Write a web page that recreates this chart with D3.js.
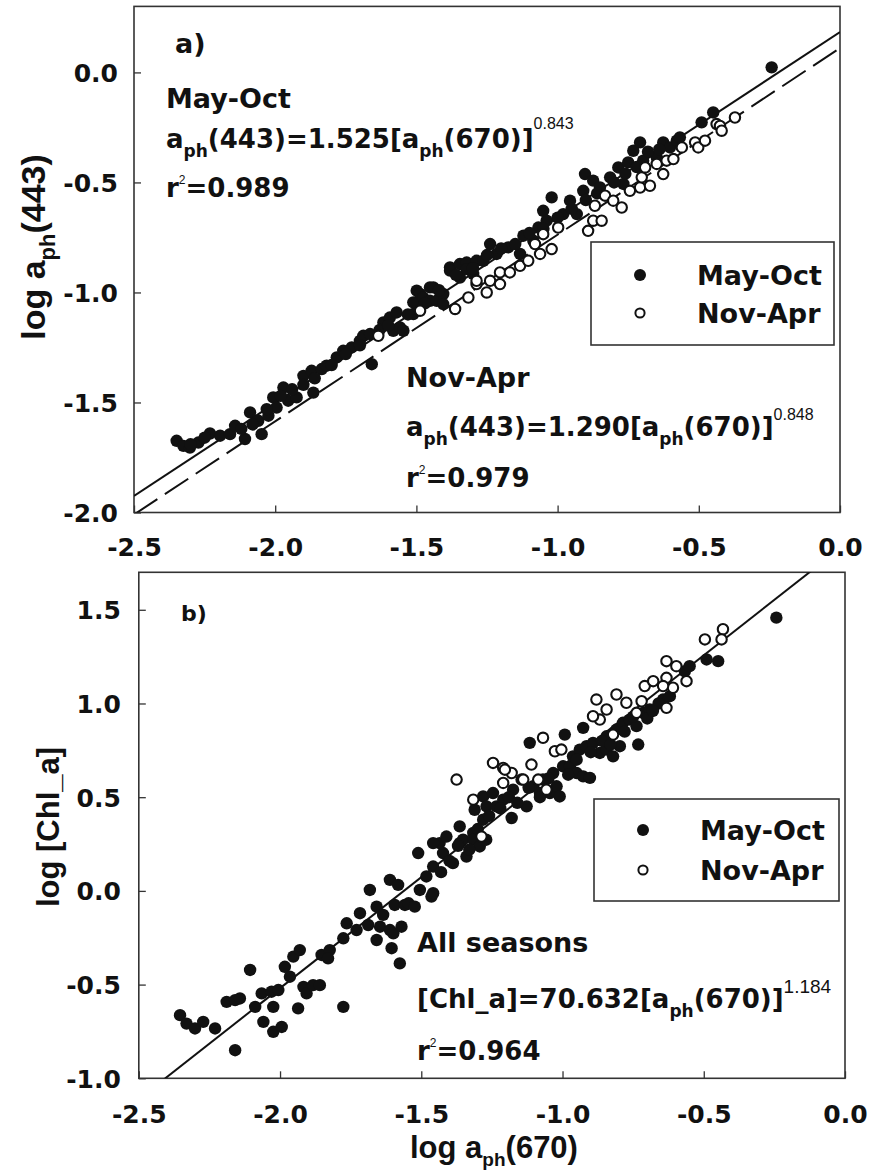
<!DOCTYPE html>
<html><head><meta charset="utf-8">
<script src="https://cdn.jsdelivr.net/npm/d3@7/dist/d3.min.js"></script>
<style>body{margin:0;background:#fff}</style>
</head><body>
<svg id="c" width="870" height="1174"></svg>
<script>
// ---------- data ----------
const xTicks = [-2.5, -2.0, -1.5, -1.0, -0.5, 0.0];
const yTicksA = [-2.0, -1.5, -1.0, -0.5, 0.0];
const yTicksB = [-1.0, -0.5, 0.0, 0.5, 1.0, 1.5];
const seriesNames = ["May-Oct", "Nov-Apr"];
const fitLabels = ["May-Oct", "Nov-Apr", "All seasons"];
const fitCoefs = [1.525, 1.290, 70.632];
const fitExps = [0.843, 0.848, 1.184];
const fitR2 = [0.989, 0.979, 0.964];

// panel a: log aph(670) vs log aph(443)
const mayOctA = [
[-2.349,-1.674],[-2.325,-1.697],[-2.302,-1.705],[-2.272,-1.682],[-2.231,-1.641],[-2.195,-1.651],[-2.160,-1.644],[-2.142,-1.606],[-2.107,-1.666],[-2.089,-1.545],[-2.060,-1.583],[-2.048,-1.644],[-2.024,-1.560],[-2.007,-1.477],[-1.995,-1.523],[-1.971,-1.432],[-1.954,-1.492],[-1.924,-1.477],[-1.900,-1.379],[-1.871,-1.356],[-1.865,-1.455],[-1.835,-1.348],[-1.818,-1.333],[-1.782,-1.295],[-1.759,-1.265],[-1.729,-1.250],[-1.700,-1.220],[-1.688,-1.197],[-1.664,-1.189],[-1.658,-1.326],[-1.617,-1.136],[-1.594,-1.114],[-1.570,-1.091],[-1.582,-1.174],[-1.558,-1.159],[-1.546,-1.174],[-1.511,-1.098],[-1.511,-1.045],[-1.499,-0.992],[-1.487,-1.007],[-1.476,-1.023],[-1.452,-1.038],[-1.452,-0.977],[-1.440,-0.977],[-1.428,-1.038],[-1.405,-1.007],[-1.405,-1.053],[-1.381,-0.886],[-1.381,-0.901],[-1.346,-0.932],[-1.346,-0.871],[-1.322,-0.864],[-1.322,-0.894],[-1.299,-0.916],[-1.287,-0.856],[-1.263,-0.856],[-1.239,-0.780],[-1.216,-0.825],[-1.175,-0.795],[-1.133,-0.825],[-1.121,-0.742],[-1.086,-0.765],[-1.068,-0.705],[-1.051,-0.629],[-1.021,-0.568],[-1.039,-0.674],[-0.980,-0.644],[-0.956,-0.583],[-0.932,-0.644],[-0.909,-0.538],[-0.903,-0.462],[-0.874,-0.492],[-0.850,-0.523],[-0.814,-0.477],[-0.785,-0.432],[-0.767,-0.507],[-0.750,-0.409],[-0.732,-0.356],[-0.708,-0.318],[-0.697,-0.401],[-0.649,-0.386],[-0.626,-0.318],[-0.602,-0.341],[-0.578,-0.310],[-0.567,-0.295],[-0.490,-0.227],[-0.449,-0.182],[-0.242,0.023],
[-2.300,-1.690],[-2.250,-1.660],[-2.120,-1.620],[-2.080,-1.600],[-2.030,-1.530],[-1.980,-1.470],[-1.940,-1.440],[-1.900,-1.420],[-1.860,-1.390],[-1.800,-1.330],[-1.750,-1.280],[-1.700,-1.240],
[-1.630,-1.170],[-1.600,-1.150],[-1.530,-1.100],[-1.470,-1.050],[-1.420,-0.990],[-1.360,-0.920],[-1.300,-0.890],[-1.250,-0.830],[-1.200,-0.800],[-1.150,-0.780],[-1.100,-0.730],[-1.050,-0.710],[-1.000,-0.660],[-0.950,-0.620],[-0.900,-0.580],[-0.860,-0.550],[-0.800,-0.500],[-0.760,-0.460],[-0.720,-0.430],[-0.680,-0.360],[-0.640,-0.350]
];
const novAprA = [
[-1.635,-1.197],[-1.487,-1.083],[-1.363,-1.075],[-1.316,-1.023],[-1.287,-0.962],[-1.287,-0.947],[-1.251,-1.000],[-1.239,-0.947],[-1.204,-0.962],[-1.204,-0.909],[-1.169,-0.909],[-1.133,-0.879],[-1.104,-0.856],[-1.080,-0.780],[-1.062,-0.825],[-1.051,-0.735],[-1.021,-0.803],[-0.998,-0.705],[-0.892,-0.720],[-0.874,-0.674],[-0.844,-0.674],[-0.868,-0.606],[-0.832,-0.560],[-0.803,-0.583],[-0.773,-0.614],[-0.744,-0.538],[-0.708,-0.523],[-0.673,-0.515],[-0.702,-0.477],[-0.690,-0.432],[-0.649,-0.416],[-0.626,-0.462],[-0.614,-0.401],[-0.590,-0.394],[-0.560,-0.341],[-0.513,-0.318],[-0.502,-0.341],[-0.478,-0.310],[-0.437,-0.235],[-0.425,-0.243],[-0.419,-0.265],[-0.372,-0.205]
];

// panel b: log aph(670) vs log [Chl_a]
const mayOctB = [
[-2.354,-0.663],[-2.331,-0.708],[-2.301,-0.734],[-2.272,-0.699],[-2.230,-0.734],[-2.189,-0.592],[-2.159,-0.583],[-2.142,-0.574],[-2.159,-0.850],[-2.106,-0.422],[-2.088,-0.619],[-2.065,-0.547],[-2.059,-0.699],[-2.030,-0.538],[-2.024,-0.619],[-2.024,-0.752],[-2.006,-0.529],[-1.994,-0.726],[-1.983,-0.405],[-1.965,-0.458],[-1.953,-0.351],[-1.930,-0.316],[-1.936,-0.627],[-1.917,-0.512],[-1.906,-0.547],[-1.883,-0.503],[-1.859,-0.503],[-1.853,-0.342],[-1.824,-0.316],[-1.830,-0.360],[-1.776,-0.619],[-1.776,-0.253],[-1.764,-0.173],[-1.729,-0.209],[-1.717,-0.119],[-1.688,-0.182],[-1.682,0.005],[-1.658,-0.262],[-1.646,-0.191],[-1.658,-0.084],[-1.635,-0.128],[-1.611,0.059],[-1.611,-0.209],[-1.599,-0.226],[-1.605,-0.306],[-1.582,0.032],[-1.576,-0.387],[-1.570,-0.191],[-1.594,-0.075],[-1.558,-0.075],[-1.545,-0.066],[-1.523,-0.084],[-1.505,0.005],[-1.511,0.202],[-1.482,0.077],[-1.458,0.130],[-1.464,-0.030],[-1.458,-0.012],[-1.435,0.255],[-1.458,0.255],[-1.423,0.202],[-1.411,0.290],[-1.388,0.148],[-1.364,0.255],[-1.364,0.344],[-1.352,0.273],[-1.340,0.183],[-1.316,0.309],[-1.316,0.273],[-1.293,0.237],[-1.270,0.273],[-1.281,0.380],[-1.311,0.433],[-1.281,0.504],[-1.246,0.522],[-1.269,0.451],[-1.234,0.451],[-1.210,0.487],[-1.180,0.389],[-1.175,0.540],[-1.127,0.451],[-1.145,0.594],[-1.104,0.558],[-1.080,0.522],[-1.069,0.594],[-1.045,0.522],[-1.021,0.558],[-1.010,0.504],[-1.033,0.629],[-0.998,0.665],[-0.974,0.665],[-0.950,0.629],[-0.927,0.611],[-0.903,0.603],[-0.963,0.718],[-0.939,0.754],[-0.915,0.772],[-0.892,0.790],[-0.868,0.736],[-0.844,0.754],[-0.821,0.718],[-0.797,0.772],[-0.844,0.825],[-0.809,0.861],[-0.786,0.897],[-0.762,0.914],[-0.738,0.879],[-0.715,0.950],[-0.691,0.968],[-0.732,0.781],[-1.116,0.790],[-0.992,0.834],[-0.927,0.870],[-0.644,1.021],[-0.620,1.039],[-0.567,1.172],[-0.550,1.199],[-0.490,1.235],[-0.449,1.226],[-0.243,1.458],
[-1.430,0.100],[-1.400,0.160],[-1.370,0.240],[-1.330,0.220],[-1.300,0.330],[-1.260,0.400],[-1.220,0.440],[-1.190,0.500],[-1.160,0.470],[-1.120,0.550],[-1.080,0.500],[-1.050,0.600],[-0.980,0.620],[-0.950,0.700],[-0.900,0.740],[-0.860,0.800],[-0.830,0.780],[-0.780,0.850],[-0.750,0.930],[-0.700,0.920],[-0.660,1.000],[-0.680,0.960]
];
const novAprB = [
[-1.375,0.594],[-1.316,0.487],[-1.246,0.683],[-1.210,0.656],[-1.180,0.629],[-1.210,0.576],[-1.139,0.594],[-1.110,0.674],[-1.086,0.594],[-1.057,0.540],[-1.287,0.290],[-1.069,0.817],[-1.027,0.745],[-1.004,0.754],[-0.880,1.021],[-0.844,0.968],[-0.868,0.914],[-0.892,0.932],[-0.809,1.048],[-0.774,1.004],[-0.821,0.834],[-0.738,0.950],[-0.709,1.093],[-0.679,1.119],[-0.632,1.226],[-0.597,1.199],[-0.632,1.137],[-0.609,1.084],[-0.561,1.119],[-0.632,0.977],[-0.644,1.093],[-0.496,1.342],[-0.432,1.396],[-0.437,1.342],[-0.720,1.012],[-1.204,0.647]
];

// ---------- drawing ----------
const svg = d3.select("#c");
const F1 = "'DejaVu Sans', sans-serif";
const F2 = "'Liberation Sans', Arial, sans-serif";
const INK = "#111";
const defs = svg.append("defs");

function rich(sel, x, y, parts, size, family) {
  const t = sel.append("text").attr("x", x).attr("y", y)
    .attr("font-family", family || F1).attr("font-weight", "bold")
    .attr("font-size", size).attr("fill", INK);
  let cur = 0;
  parts.forEach(p => {
    const ts = t.append("tspan").text(p.t);
    let target = 0;
    if (p.sub) { ts.attr("font-size", p.size || size * 0.66); target = p.off || size * 0.32; }
    if (p.sup) { ts.attr("font-size", p.size || size * 0.6).attr("font-family", F2).attr("font-weight", "normal"); target = p.off || -size * 0.7; }
    ts.attr("dy", target - cur);
    cur = target;
  });
  return t;
}

function panel(cfg) {
  const x = d3.scaleLinear().domain([-2.5, 0]).range(cfg.xr);
  const y = d3.scaleLinear().domain(cfg.yd).range(cfg.yr);
  const g = svg.append("g");
  const cid = "clip-" + cfg.name;
  defs.append("clipPath").attr("id", cid).append("rect")
    .attr("x", cfg.xr[0]).attr("y", cfg.yr[1])
    .attr("width", cfg.xr[1] - cfg.xr[0]).attr("height", cfg.yr[0] - cfg.yr[1]);

  // axes
  const gx = g.append("g").attr("transform", `translate(0,${cfg.yr[0]})`)
    .call(d3.axisBottom(x).tickValues(xTicks).tickSizeInner(-7).tickSizeOuter(0).tickFormat(d => d.toFixed(1)));
  gx.select(".domain").remove();
  gx.selectAll(".tick line").attr("stroke", "#333").attr("stroke-width", 1.3);
  gx.selectAll("text").attr("y", cfg.xLabOff).attr("dy", 0)
    .attr("font-family", F1).attr("font-weight", "bold").attr("font-size", 25).attr("fill", INK);

  const gy = g.append("g").attr("transform", `translate(${cfg.xr[0]},0)`)
    .call(d3.axisLeft(y).tickValues(cfg.yTicks).tickSizeInner(-7).tickSizeOuter(0).tickPadding(cfg.yPad).tickFormat(d => d.toFixed(1)));
  gy.select(".domain").remove();
  gy.selectAll(".tick line").attr("stroke", "#333").attr("stroke-width", 1.3);
  gy.selectAll("text").attr("dy", "0.36em")
    .attr("font-family", F1).attr("font-weight", "bold").attr("font-size", 25).attr("fill", INK);

  // frame
  g.append("rect").attr("x", cfg.xr[0]).attr("y", cfg.yr[1])
    .attr("width", cfg.xr[1] - cfg.xr[0]).attr("height", cfg.yr[0] - cfg.yr[1])
    .attr("fill", "none").attr("stroke", "#333").attr("stroke-width", 1.6);

  // fit lines
  const lg = g.append("g").attr("clip-path", `url(#${cid})`);
  cfg.fits.forEach(f => {
    const i = f.idx;
    const pts = [-2.5, 0].map(v => [v, Math.log10(fitCoefs[i]) + fitExps[i] * v]);
    lg.append("path").attr("d", d3.line().x(d => x(d[0])).y(d => y(d[1]))(pts))
      .attr("fill", "none").attr("stroke", INK).attr("stroke-width", 2)
      .attr("stroke-dasharray", f.dash || null);
  });

  // points
  const pg = g.append("g").attr("clip-path", `url(#${cid})`);
  pg.selectAll("circle.f").data(cfg.filled).join("circle").attr("class", "f")
    .attr("cx", d => x(d[0])).attr("cy", d => y(d[1])).attr("r", 6.2).attr("fill", INK);
  pg.selectAll("circle.o").data(cfg.open).join("circle").attr("class", "o")
    .attr("cx", d => x(d[0])).attr("cy", d => y(d[1])).attr("r", 5.2)
    .attr("fill", "#fff").attr("stroke", INK).attr("stroke-width", 2.1);

  // legend
  const L = cfg.legend;
  const lgd = g.append("g");
  lgd.append("rect").attr("x", L.x).attr("y", L.y).attr("width", L.w).attr("height", L.h)
    .attr("fill", "#fff").attr("stroke", "#333").attr("stroke-width", 1.6);
  seriesNames.forEach((s, k) => {
    const cy = L.y + L.r0 + k * L.dr;
    if (k === 0) lgd.append("circle").attr("cx", L.x + 49).attr("cy", cy).attr("r", 6).attr("fill", INK);
    else lgd.append("circle").attr("cx", L.x + 49).attr("cy", cy).attr("r", 4.6).attr("fill", "#fff").attr("stroke", INK).attr("stroke-width", 2);
    lgd.append("text").attr("x", L.x + 106).attr("y", cy + 10).text(s)
      .attr("font-family", F1).attr("font-weight", "bold").attr("font-size", 27).attr("fill", INK);
  });
  return {x, y, g};
}

// panel a
const A = panel({
  name: "a", xr: [134, 840], yd: [-2, 0.3], yr: [512.5, 6.4], yTicks: yTicksA, yPad: 16, xLabOff: 43,
  filled: mayOctA, open: novAprA,
  fits: [{idx: 0}, {idx: 1, dash: "28,9"}],
  legend: {x: 591, y: 242, w: 243, h: 103, r0: 33, dr: 38}
});
// panel b
const B = panel({
  name: "b", xr: [138.8, 845], yd: [-1, 1.7], yr: [1078.3, 572.3], yTicks: yTicksB, yPad: 18, xLabOff: 45,
  filled: mayOctB, open: novAprB,
  fits: [{idx: 2}],
  legend: {x: 594, y: 799, w: 245, h: 102, r0: 31, dr: 40}
});

function eqParts(lhs, i, supOff, supSize) {
  return lhs.concat([
    {t: "=" + fitCoefs[i].toFixed(3) + "[a"}, {t: "ph", sub: true, size: 17, off: 9},
    {t: "(670)]"}, {t: fitExps[i].toFixed(3), sup: true, size: supSize, off: supOff}
  ]);
}
function r2Parts(i) {
  return [{t: "r"}, {t: "2", sup: true, size: 12, off: -13}, {t: "=" + fitR2[i].toFixed(3)}];
}

// annotations panel a
rich(svg, 175, 53, [{t: "a)"}], 27);
rich(svg, 166, 108, [{t: fitLabels[0]}], 27);
rich(svg, 166, 148, eqParts([{t: "a"}, {t: "ph", sub: true, size: 17, off: 9}, {t: "(443)"}], 0, -19, 16), 26);
rich(svg, 166, 197, r2Parts(0), 26);
rich(svg, 406, 387, [{t: fitLabels[1]}], 27);
rich(svg, 406, 436, eqParts([{t: "a"}, {t: "ph", sub: true, size: 17, off: 9}, {t: "(443)"}], 1, -16, 16), 26);
rich(svg, 406, 487, r2Parts(1), 26);

// annotations panel b
rich(svg, 181, 621, [{t: "b)"}], 22);
rich(svg, 417, 952, [{t: fitLabels[2]}], 27);
rich(svg, 417, 1008, eqParts([{t: "[Chl_a]"}], 2, -15, 19), 26);
rich(svg, 417, 1060, r2Parts(2), 26);

// axis titles
const ta = svg.append("g").attr("transform", "translate(45,247) rotate(-90)");
rich(ta, 0, 0, [{t: "log a"}, {t: "ph", sub: true, size: 22, off: 10}, {t: "(443)"}], 34, F2).attr("text-anchor", "middle");
const tb = svg.append("g").attr("transform", "translate(59,827) rotate(-90)");
rich(tb, 0, 0, [{t: "log [Chl_a]"}], 31, F2).attr("text-anchor", "middle");
rich(svg, 410, 1158, [{t: "log a"}, {t: "ph", sub: true, size: 19, off: 8}, {t: "(670)"}], 31, F2);
</script>
</body></html>
